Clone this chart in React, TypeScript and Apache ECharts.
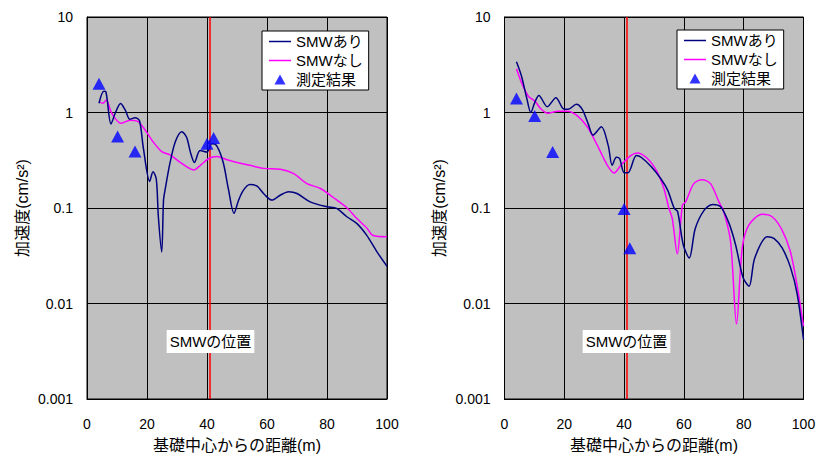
import React, { useEffect, useRef } from "react";
import * as echarts from "echarts";

// Distance (m) and acceleration (cm/s^2) — left panel
const leftWithX = [4, 5.6, 6.3, 8, 9.5, 11.2, 12.8, 14.3, 16, 17.5, 18.8, 20.9, 22, 23.1, 23.8, 24.9, 25.5, 26, 27.7, 29.5, 31.6, 33.2, 34.5, 35.8, 37.7, 40, 41.6, 43.2, 45.4, 47.1, 49, 50.5, 52.1, 54.3, 56.6, 59, 61.6, 64.4, 67.2, 70, 74.4, 80, 83.2, 86.6, 89.9, 93.2, 96.6, 100];
const leftWithY = [1.25, 1.67, 1.65, 0.76, 1.0, 1.24, 1.05, 0.85, 0.88, 0.82, 0.42, 0.19, 0.24, 0.2, 0.08, 0.0346, 0.12, 0.153, 0.3, 0.5, 0.63, 0.55, 0.38, 0.3, 0.4, 0.385, 0.47, 0.45, 0.3, 0.16, 0.088, 0.12, 0.153, 0.176, 0.17, 0.14, 0.121, 0.136, 0.148, 0.142, 0.116, 0.103, 0.099, 0.081, 0.069, 0.052, 0.035, 0.0245];
const leftWithoutX = [4, 5.3, 6.4, 8, 9.1, 11.3, 14.3, 17.1, 19.9, 22.1, 24.9, 27.7, 31.1, 35.6, 37.8, 40.6, 43.3, 46.7, 50, 54.4, 58.9, 64.4, 68.9, 73.3, 77.8, 82.2, 86.7, 89.9, 93.2, 95.4, 100];
const leftWithoutY = [1.3, 1.25, 1.35, 1.02, 0.89, 0.77, 0.83, 0.8, 0.62, 0.49, 0.39, 0.36, 0.3, 0.25, 0.28, 0.33, 0.346, 0.32, 0.3, 0.28, 0.26, 0.254, 0.229, 0.18, 0.16, 0.128, 0.1, 0.078, 0.062, 0.0515, 0.05];
const leftMeasX = [4, 10.2, 16, 40, 42.2];
const leftMeasY = [2.0, 0.56, 0.39, 0.47, 0.54];

// Right panel
const rightWithX = [4, 5.7, 7.4, 8.8, 10.1, 11.5, 14.3, 17.2, 19.6, 21.3, 24, 26, 28, 29.6, 32.4, 34.7, 36, 37.4, 38.5, 40, 41.3, 44.1, 45.7, 49.1, 52.4, 54.6, 56.8, 57.9, 59.8, 61.8, 63.8, 66.8, 69.6, 72.3, 75.1, 77.3, 79.8, 81.8, 83.7, 87.9, 90.1, 92.9, 95.7, 97.9, 100];
const rightWithY = [3.4, 2.4, 1.43, 1.0, 1.27, 1.51, 1.15, 1.43, 1.1, 1.08, 1.22, 1.08, 0.76, 0.58, 0.71, 0.45, 0.28, 0.34, 0.33, 0.234, 0.234, 0.354, 0.34, 0.27, 0.2, 0.153, 0.099, 0.092, 0.041, 0.03, 0.061, 0.095, 0.109, 0.103, 0.069, 0.041, 0.0186, 0.0152, 0.03, 0.05, 0.048, 0.038, 0.0236, 0.0125, 0.0042];
const rightWithoutX = [4, 5.7, 7.9, 10.1, 12.3, 14.5, 17.8, 21.1, 24.4, 27.8, 31.1, 34.4, 36.7, 38.9, 42.2, 44.4, 47.8, 51.1, 53.3, 55, 56.1, 57.8, 59.5, 60.6, 63.3, 66.1, 68.9, 71.7, 73.3, 75.6, 77.6, 79.5, 81.7, 86.2, 89.5, 92.8, 95.6, 97.8, 100];
const rightWithoutY = [2.87, 2.05, 1.49, 1.32, 1.08, 0.98, 1.03, 1.03, 0.92, 0.7, 0.45, 0.28, 0.233, 0.28, 0.354, 0.377, 0.33, 0.238, 0.16, 0.099, 0.078, 0.033, 0.107, 0.116, 0.18, 0.198, 0.18, 0.116, 0.092, 0.045, 0.0061, 0.038, 0.066, 0.086, 0.081, 0.059, 0.035, 0.0158, 0.0058];
const rightMeasX = [4, 10.1, 16.1, 40, 41.9];
const rightMeasY = [1.4, 0.92, 0.385, 0.0975, 0.038];

const smwPosition = 41;
const yTickLabels = ["0.001", "0.01", "0.1", "1", "10"];
const seriesNames = ["SMWあり", "SMWなし", "測定結果"];
const xAxisTitle = "基礎中心からの距離(m)";
const yAxisTitle = "加速度(cm/s²)";
const smwLabel = "SMWの位置";

const FONT = "'Liberation Sans', 'Noto Sans CJK JP', sans-serif";
const LINE_ICON = "path://M0,0H22V1.5H0Z";
const TRI_ICON = "path://M0,0M22,14M11,2L16.5,12L5.5,12Z";

function pairs(xs: number[], ys: number[]) {
  return xs.map((x, i) => [x, ys[i]]);
}

function fmtY(v: number) {
  const idx = Math.round(Math.log10(v)) + 3;
  return yTickLabels[idx] ?? String(v);
}

export default function App() {
  const ref = useRef<HTMLDivElement>(null);
  useEffect(() => {
    if (!ref.current) return;
    const chart = echarts.init(ref.current, undefined, { renderer: "svg" });
    const grids = [
      { left: 87, top: 17, width: 300, height: 385 },
      { left: 504.5, top: 17, width: 299, height: 385 },
    ];
    const mkX = (gi: number) => ({
      type: "value",
      gridIndex: gi,
      min: 0,
      max: 100,
      interval: 20,
      name: xAxisTitle,
      nameLocation: "middle",
      nameGap: 38,
      nameTextStyle: { fontSize: 16, color: "#000", fontFamily: FONT },
      axisLine: { show: true, onZero: false, lineStyle: { color: "#000", width: 1 } },
      axisTick: { show: true, inside: true, length: 5, lineStyle: { color: "#000" } },
      axisLabel: { fontSize: 14, color: "#000", margin: 18, fontFamily: FONT },
      splitLine: { show: true, lineStyle: { color: "#000", width: 1 } },
    });
    const mkY = (gi: number) => ({
      type: "log",
      logBase: 10,
      gridIndex: gi,
      min: 0.001,
      max: 10,
      name: yAxisTitle,
      nameLocation: "middle",
      nameGap: 57,
      nameTextStyle: { fontSize: 16, color: "#000", fontFamily: FONT },
      axisLine: { show: true, lineStyle: { color: "#000", width: 1 } },
      axisTick: { show: true, inside: true, length: 5, lineStyle: { color: "#000" } },
      minorTick: { show: false },
      axisLabel: { fontSize: 14, color: "#000", margin: 14, fontFamily: FONT, formatter: fmtY },
      splitLine: { show: true, lineStyle: { color: "#000", width: 1 } },
    });
    const mkSeries = (gi: number, wx: number[], wy: number[], nx: number[], ny: number[], mx: number[], my: number[]) => [
      {
        name: seriesNames[1],
        type: "line",
        xAxisIndex: gi,
        yAxisIndex: gi,
        data: pairs(nx, ny),
        symbol: "none",
        smooth: 0.3,
        lineStyle: { color: "#ff00ff", width: 1.5 },
        itemStyle: { color: "#ff00ff" },
        z: 3,
      },
      {
        name: seriesNames[0],
        type: "line",
        xAxisIndex: gi,
        yAxisIndex: gi,
        data: pairs(wx, wy),
        symbol: "none",
        smooth: 0.3,
        lineStyle: { color: "#000080", width: 1.5 },
        itemStyle: { color: "#000080" },
        z: 4,
        markLine: {
          silent: true,
          symbol: ["none", "none"],
          label: { show: false },
          lineStyle: { color: "#ff0000", width: 1.5, type: "solid" },
          data: [{ xAxis: smwPosition }],
          z: 2,
        },
      },
      {
        name: seriesNames[2],
        type: "scatter",
        xAxisIndex: gi,
        yAxisIndex: gi,
        data: pairs(mx, my),
        symbol: "triangle",
        symbolSize: [13, 12],
        itemStyle: { color: "#0000ff" },
        z: 5,
      },
    ];
    const mkLegend = (left: number, top: number) => ({
      data: [
        { name: seriesNames[0], icon: LINE_ICON },
        { name: seriesNames[1], icon: LINE_ICON },
        { name: seriesNames[2], icon: TRI_ICON },
      ],
      left,
      top,
      orient: "vertical",
      padding: [3, 6, 3, 7],
      itemGap: 4,
      itemWidth: 22,
      itemHeight: 14,
      symbolKeepAspect: true,
      borderColor: "#000",
      borderWidth: 1,
      backgroundColor: "#fff",
      selectedMode: false,
      textStyle: { fontSize: 15, color: "#000", fontFamily: FONT },
    });
    const mkLabel = (cx: number, cy: number) => ({
      type: "text",
      x: cx,
      y: cy,
      z: 100,
      style: {
        text: smwLabel,
        align: "center",
        verticalAlign: "middle",
        fontSize: 15,
        fontFamily: FONT,
        fill: "#000",
        backgroundColor: "#fff",
        padding: [4, 3],
      },
    });
    chart.setOption({
      animation: false,
      backgroundColor: "#fff",
      grid: grids.map((g) => ({ ...g, show: true, backgroundColor: "#c0c0c0", borderColor: "#000", borderWidth: 1 })),
      xAxis: [mkX(0), mkX(1)],
      yAxis: [mkY(0), mkY(1)],
      legend: [mkLegend(262, 31), mkLegend(677, 30)],
      series: [
        ...mkSeries(0, leftWithX, leftWithY, leftWithoutX, leftWithoutY, leftMeasX, leftMeasY),
        ...mkSeries(1, rightWithX, rightWithY, rightWithoutX, rightWithoutY, rightMeasX, rightMeasY),
      ],
      graphic: [mkLabel(210.5, 341.5), mkLabel(626.5, 341.5)],
    });
    return () => chart.dispose();
  }, []);
  return <div ref={ref} style={{ position: "absolute", left: 0, top: 0, width: 823, height: 458 }} />;
}
